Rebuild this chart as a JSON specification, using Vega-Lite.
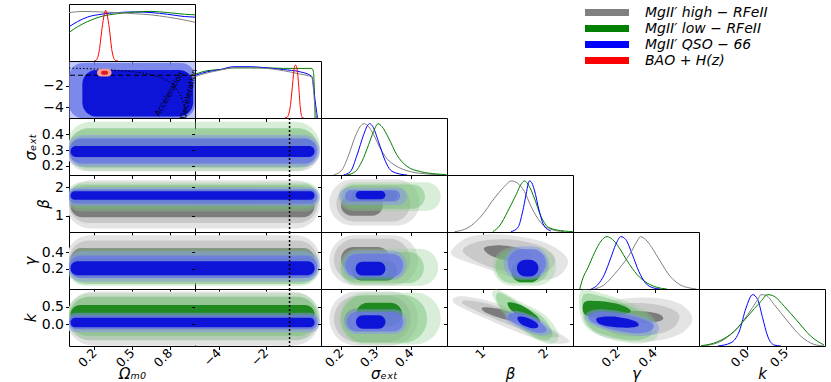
{
"$schema":"https://vega.github.io/schema/vega-lite/v6.json",
"autosize":{"type":"pad"},
"padding":{"left":22,"top":3,"right":0,"bottom":0},
"background":"white",
"spacing":0,
"bounds":"flush",
"columns":6,
"config":{
 "view":{"stroke":"#000","strokeWidth":1},
 "axis":{"domain":false,"grid":false,"tickColor":"#000","tickSize":3.5,"tickWidth":1,"labelFont":"DejaVu Sans","labelFontSize":14,"labelColor":"#000","labelPadding":2,"labelFlush":false,"labelOverlap":false,"titleFont":"DejaVu Sans","titleFontSize":15,"titleFontWeight":"normal","titleFontStyle":"italic","titleColor":"#000","titlePadding":3},
 "axisX":{"labelAngle":-45,"labelAlign":"right","labelBaseline":"middle","labelFontSize":12.5,"labelPadding":1,"titleY":32,"titleBaseline":"alphabetic"},
 "range":{"category":["#e4e4e4","#c9c9c9","#7c7c7c","rgba(143,207,143,0.35)","rgba(111,191,111,0.45)","#1f8a1f","rgba(138,150,240,0.5)","rgba(106,120,230,0.8)","#0d14d8","#f49a9a","#e01818"]},
 "legend":{"orient":"none","legendX":509,"legendY":2,"clipHeight":13,"labelFont":"DejaVu Sans","labelFontSize":14,"labelFontStyle":"italic","labelColor":"#000","labelOffset":53,"rowPadding":1,"symbolType":"M0,0H14.67","symbolSize":36,"symbolStrokeWidth":7}
},
"datasets":{
 "diag":[
  {"p":"om","set":"c","x":0,"y":0.6},{"p":"om","set":"c","x":0.067,"y":0.69},{"p":"om","set":"c","x":0.146,"y":0.77},{"p":"om","set":"c","x":0.254,"y":0.82},{"p":"om","set":"c","x":0.386,"y":0.85},{"p":"om","set":"c","x":0.52,"y":0.86},{"p":"om","set":"c","x":0.651,"y":0.85},{"p":"om","set":"c","x":0.783,"y":0.82},{"p":"om","set":"c","x":0.915,"y":0.78},{"p":"om","set":"c","x":1.0,"y":0.77},
  {"p":"om","set":"b","x":0,"y":0.5},{"p":"om","set":"b","x":0.067,"y":0.6},{"p":"om","set":"b","x":0.146,"y":0.69},{"p":"om","set":"b","x":0.254,"y":0.78},{"p":"om","set":"b","x":0.386,"y":0.83},{"p":"om","set":"b","x":0.52,"y":0.86},{"p":"om","set":"b","x":0.651,"y":0.87},{"p":"om","set":"b","x":0.783,"y":0.85},{"p":"om","set":"b","x":0.915,"y":0.82},{"p":"om","set":"b","x":1.0,"y":0.81},
  {"p":"om","set":"a","x":0,"y":0.85},{"p":"om","set":"a","x":0.119,"y":0.87},{"p":"om","set":"a","x":0.254,"y":0.86},{"p":"om","set":"a","x":0.386,"y":0.85},{"p":"om","set":"a","x":0.52,"y":0.83},{"p":"om","set":"a","x":0.651,"y":0.81},{"p":"om","set":"a","x":0.783,"y":0.77},{"p":"om","set":"a","x":0.915,"y":0.72},{"p":"om","set":"a","x":1.0,"y":0.68},
  {"p":"om","set":"d","x":0.2,"y":0},{"p":"om","set":"d","x":0.214,"y":0.01},{"p":"om","set":"d","x":0.24,"y":0.18},{"p":"om","set":"d","x":0.262,"y":0.57},{"p":"om","set":"d","x":0.28,"y":0.82},{"p":"om","set":"d","x":0.291,"y":0.89},{"p":"om","set":"d","x":0.302,"y":0.82},{"p":"om","set":"d","x":0.32,"y":0.57},{"p":"om","set":"d","x":0.341,"y":0.18},{"p":"om","set":"d","x":0.368,"y":0.01},{"p":"om","set":"d","x":0.39,"y":0},
  {"p":"w","set":"b","x":-4.98,"y":0.77},{"p":"w","set":"b","x":-4.49,"y":0.83},{"p":"w","set":"b","x":-3.93,"y":0.85},{"p":"w","set":"b","x":-3.37,"y":0.88},{"p":"w","set":"b","x":-2.66,"y":0.88},{"p":"w","set":"b","x":-1.96,"y":0.88},{"p":"w","set":"b","x":-1.26,"y":0.87},{"p":"w","set":"b","x":-0.55,"y":0.87},{"p":"w","set":"b","x":-0.06,"y":0.87},{"p":"w","set":"b","x":0.01,"y":0.81},{"p":"w","set":"b","x":0.08,"y":0},
  {"p":"w","set":"c","x":-4.98,"y":0.75},{"p":"w","set":"c","x":-4.49,"y":0.81},{"p":"w","set":"c","x":-3.93,"y":0.85},{"p":"w","set":"c","x":-3.37,"y":0.9},{"p":"w","set":"c","x":-2.66,"y":0.9},{"p":"w","set":"c","x":-1.96,"y":0.88},{"p":"w","set":"c","x":-1.26,"y":0.85},{"p":"w","set":"c","x":-0.55,"y":0.81},{"p":"w","set":"c","x":-0.06,"y":0.73},{"p":"w","set":"c","x":0.08,"y":0.31},{"p":"w","set":"c","x":0.18,"y":0},
  {"p":"w","set":"a","x":-4.98,"y":0.73},{"p":"w","set":"a","x":-4.49,"y":0.79},{"p":"w","set":"a","x":-3.93,"y":0.84},{"p":"w","set":"a","x":-3.37,"y":0.88},{"p":"w","set":"a","x":-2.66,"y":0.88},{"p":"w","set":"a","x":-1.96,"y":0.87},{"p":"w","set":"a","x":-1.26,"y":0.83},{"p":"w","set":"a","x":-0.55,"y":0.77},{"p":"w","set":"a","x":-0.06,"y":0.72},{"p":"w","set":"a","x":0.08,"y":0.19},{"p":"w","set":"a","x":0.15,"y":0},
  {"p":"w","set":"d","x":-1.2,"y":0},{"p":"w","set":"d","x":-1.11,"y":0.01},{"p":"w","set":"d","x":-0.97,"y":0.2},{"p":"w","set":"d","x":-0.87,"y":0.6},{"p":"w","set":"d","x":-0.8,"y":0.88},{"p":"w","set":"d","x":-0.75,"y":0.93},{"p":"w","set":"d","x":-0.69,"y":0.88},{"p":"w","set":"d","x":-0.62,"y":0.6},{"p":"w","set":"d","x":-0.55,"y":0.2},{"p":"w","set":"d","x":-0.47,"y":0.01},{"p":"w","set":"d","x":-0.4,"y":0},
  {"p":"s","set":"a","x":0.179,"y":0},{"p":"s","set":"a","x":0.203,"y":0.09},{"p":"s","set":"a","x":0.222,"y":0.35},{"p":"s","set":"a","x":0.241,"y":0.68},{"p":"s","set":"a","x":0.255,"y":0.85},{"p":"s","set":"a","x":0.265,"y":0.9},{"p":"s","set":"a","x":0.276,"y":0.87},{"p":"s","set":"a","x":0.293,"y":0.71},{"p":"s","set":"a","x":0.312,"y":0.47},{"p":"s","set":"a","x":0.331,"y":0.29},{"p":"s","set":"a","x":0.36,"y":0.15},{"p":"s","set":"a","x":0.398,"y":0.06},{"p":"s","set":"a","x":0.446,"y":0.018},{"p":"s","set":"a","x":0.493,"y":0},
  {"p":"s","set":"c","x":0.2075,"y":0},{"p":"s","set":"c","x":0.227,"y":0.06},{"p":"s","set":"c","x":0.246,"y":0.35},{"p":"s","set":"c","x":0.265,"y":0.71},{"p":"s","set":"c","x":0.276,"y":0.87},{"p":"s","set":"c","x":0.282,"y":0.9},{"p":"s","set":"c","x":0.291,"y":0.85},{"p":"s","set":"c","x":0.307,"y":0.59},{"p":"s","set":"c","x":0.327,"y":0.24},{"p":"s","set":"c","x":0.341,"y":0.09},{"p":"s","set":"c","x":0.36,"y":0.03},{"p":"s","set":"c","x":0.389,"y":0},
  {"p":"s","set":"b","x":0.217,"y":0},{"p":"s","set":"b","x":0.241,"y":0.06},{"p":"s","set":"b","x":0.26,"y":0.24},{"p":"s","set":"b","x":0.279,"y":0.53},{"p":"s","set":"b","x":0.293,"y":0.76},{"p":"s","set":"b","x":0.306,"y":0.9},{"p":"s","set":"b","x":0.317,"y":0.85},{"p":"s","set":"b","x":0.336,"y":0.65},{"p":"s","set":"b","x":0.36,"y":0.35},{"p":"s","set":"b","x":0.389,"y":0.15},{"p":"s","set":"b","x":0.427,"y":0.06},{"p":"s","set":"b","x":0.474,"y":0.018},{"p":"s","set":"b","x":0.501,"y":0.006},
  {"p":"b","set":"a","x":0.552,"y":0.006},{"p":"b","set":"a","x":0.763,"y":0.075},{"p":"b","set":"a","x":0.973,"y":0.277},{"p":"b","set":"a","x":1.184,"y":0.595},{"p":"b","set":"a","x":1.341,"y":0.798},{"p":"b","set":"a","x":1.447,"y":0.896},{"p":"b","set":"a","x":1.553,"y":0.855},{"p":"b","set":"a","x":1.658,"y":0.711},{"p":"b","set":"a","x":1.763,"y":0.451},{"p":"b","set":"a","x":1.921,"y":0.162},{"p":"b","set":"a","x":2.079,"y":0.046},{"p":"b","set":"a","x":2.289,"y":0.006},
  {"p":"b","set":"b","x":1.158,"y":0.006},{"p":"b","set":"b","x":1.262,"y":0.104},{"p":"b","set":"b","x":1.395,"y":0.364},{"p":"b","set":"b","x":1.526,"y":0.653},{"p":"b","set":"b","x":1.616,"y":0.855},{"p":"b","set":"b","x":1.658,"y":0.896},{"p":"b","set":"b","x":1.737,"y":0.798},{"p":"b","set":"b","x":1.816,"y":0.595},{"p":"b","set":"b","x":1.921,"y":0.277},{"p":"b","set":"b","x":2.052,"y":0.075},{"p":"b","set":"b","x":2.289,"y":0.017},{"p":"b","set":"b","x":2.431,"y":0.006},
  {"p":"b","set":"c","x":1.447,"y":0.006},{"p":"b","set":"c","x":1.553,"y":0.075},{"p":"b","set":"c","x":1.632,"y":0.364},{"p":"b","set":"c","x":1.684,"y":0.653},{"p":"b","set":"c","x":1.721,"y":0.855},{"p":"b","set":"c","x":1.737,"y":0.896},{"p":"b","set":"c","x":1.763,"y":0.884},{"p":"b","set":"c","x":1.816,"y":0.74},{"p":"b","set":"c","x":1.895,"y":0.364},{"p":"b","set":"c","x":1.973,"y":0.104},{"p":"b","set":"c","x":2.079,"y":0.017},
  {"p":"g","set":"b","x":-0.004,"y":0},{"p":"g","set":"b","x":0.014,"y":0.194},{"p":"g","set":"b","x":0.04,"y":0.37},{"p":"g","set":"b","x":0.076,"y":0.635},{"p":"g","set":"b","x":0.111,"y":0.84},{"p":"g","set":"b","x":0.143,"y":0.918},{"p":"g","set":"b","x":0.173,"y":0.87},{"p":"g","set":"b","x":0.209,"y":0.724},{"p":"g","set":"b","x":0.253,"y":0.49},{"p":"g","set":"b","x":0.306,"y":0.253},{"p":"g","set":"b","x":0.36,"y":0.106},{"p":"g","set":"b","x":0.413,"y":0.03},{"p":"g","set":"b","x":0.466,"y":0},
  {"p":"g","set":"c","x":0.058,"y":0},{"p":"g","set":"c","x":0.094,"y":0.076},{"p":"g","set":"c","x":0.129,"y":0.253},{"p":"g","set":"c","x":0.164,"y":0.547},{"p":"g","set":"c","x":0.191,"y":0.782},{"p":"g","set":"c","x":0.218,"y":0.918},{"p":"g","set":"c","x":0.244,"y":0.87},{"p":"g","set":"c","x":0.28,"y":0.606},{"p":"g","set":"c","x":0.315,"y":0.312},{"p":"g","set":"c","x":0.351,"y":0.106},{"p":"g","set":"c","x":0.395,"y":0.018},{"p":"g","set":"c","x":0.43,"y":0},
  {"p":"g","set":"a","x":0.076,"y":0},{"p":"g","set":"a","x":0.129,"y":0.076},{"p":"g","set":"a","x":0.182,"y":0.253},{"p":"g","set":"a","x":0.227,"y":0.43},{"p":"g","set":"a","x":0.271,"y":0.635},{"p":"g","set":"a","x":0.306,"y":0.84},{"p":"g","set":"a","x":0.324,"y":0.918},{"p":"g","set":"a","x":0.351,"y":0.87},{"p":"g","set":"a","x":0.386,"y":0.724},{"p":"g","set":"a","x":0.43,"y":0.49},{"p":"g","set":"a","x":0.484,"y":0.224},{"p":"g","set":"a","x":0.537,"y":0.076},{"p":"g","set":"a","x":0.59,"y":0.018},{"p":"g","set":"a","x":0.626,"y":0},
  {"p":"k","set":"c","x":-0.369,"y":0},{"p":"k","set":"c","x":-0.2,"y":0.058},{"p":"k","set":"c","x":-0.094,"y":0.262},{"p":"k","set":"c","x":-0.009,"y":0.669},{"p":"k","set":"c","x":0.076,"y":0.901},{"p":"k","set":"c","x":0.14,"y":0.814},{"p":"k","set":"c","x":0.203,"y":0.494},{"p":"k","set":"c","x":0.267,"y":0.174},{"p":"k","set":"c","x":0.351,"y":0.017},{"p":"k","set":"c","x":0.436,"y":0},
  {"p":"k","set":"a","x":-0.581,"y":0},{"p":"k","set":"a","x":-0.369,"y":0.058},{"p":"k","set":"a","x":-0.157,"y":0.262},{"p":"k","set":"a","x":0.013,"y":0.552},{"p":"k","set":"a","x":0.14,"y":0.814},{"p":"k","set":"a","x":0.182,"y":0.901},{"p":"k","set":"a","x":0.245,"y":0.89},{"p":"k","set":"a","x":0.351,"y":0.727},{"p":"k","set":"a","x":0.521,"y":0.436},{"p":"k","set":"a","x":0.69,"y":0.174},{"p":"k","set":"a","x":0.859,"y":0.029},{"p":"k","set":"a","x":0.986,"y":0},
  {"p":"k","set":"b","x":-0.581,"y":0.006},{"p":"k","set":"b","x":-0.369,"y":0.076},{"p":"k","set":"b","x":-0.157,"y":0.262},{"p":"k","set":"b","x":0.013,"y":0.523},{"p":"k","set":"b","x":0.182,"y":0.785},{"p":"k","set":"b","x":0.267,"y":0.901},{"p":"k","set":"b","x":0.351,"y":0.872},{"p":"k","set":"b","x":0.478,"y":0.698},{"p":"k","set":"b","x":0.648,"y":0.436},{"p":"k","set":"b","x":0.817,"y":0.174},{"p":"k","set":"b","x":0.986,"y":0.017}
 ],
 "band":[
  {"r":"s","c":"a0","o1":-0.02,"o2":1.5,"w1":-6,"w2":0.28,"y1":0.165,"y2":0.43},
  {"r":"s","c":"a1","o1":0.0,"o2":1.5,"w1":-6,"w2":0.18,"y1":0.19,"y2":0.39},
  {"r":"s","c":"a2","o1":0.012,"o2":1.5,"w1":-6,"w2":0.06,"y1":0.225,"y2":0.315},
  {"r":"s","c":"b0","o1":-0.02,"o2":1.5,"w1":-6,"w2":0.28,"y1":0.17,"y2":0.48},
  {"r":"s","c":"b1","o1":0.0,"o2":1.5,"w1":-6,"w2":0.18,"y1":0.19,"y2":0.44},
  {"r":"s","c":"b2","o1":0.012,"o2":1.5,"w1":-6,"w2":0.06,"y1":0.25,"y2":0.37},
  {"r":"s","c":"c0","o1":-0.02,"o2":1.5,"w1":-6,"w2":0.28,"y1":0.195,"y2":0.395},
  {"r":"s","c":"c1","o1":0.0,"o2":1.5,"w1":-6,"w2":0.18,"y1":0.214,"y2":0.375},
  {"r":"s","c":"c2","o1":0.012,"o2":1.5,"w1":-6,"w2":0.06,"y1":0.257,"y2":0.326},
  {"r":"b","c":"a0","o1":-0.02,"o2":1.5,"w1":-6,"w2":0.28,"y1":0.55,"y2":2.25},
  {"r":"b","c":"a1","o1":0.0,"o2":1.5,"w1":-6,"w2":0.18,"y1":0.75,"y2":2.05},
  {"r":"b","c":"a2","o1":0.012,"o2":1.5,"w1":-6,"w2":0.06,"y1":0.95,"y2":1.75},
  {"r":"b","c":"b0","o1":-0.02,"o2":1.5,"w1":-6,"w2":0.28,"y1":1.15,"y2":2.18},
  {"r":"b","c":"b1","o1":0.0,"o2":1.5,"w1":-6,"w2":0.18,"y1":1.25,"y2":2.1},
  {"r":"b","c":"b2","o1":0.012,"o2":1.5,"w1":-6,"w2":0.06,"y1":1.48,"y2":1.9},
  {"r":"b","c":"c0","o1":-0.02,"o2":1.5,"w1":-6,"w2":0.28,"y1":1.33,"y2":2.0},
  {"r":"b","c":"c1","o1":0.0,"o2":1.5,"w1":-6,"w2":0.18,"y1":1.42,"y2":1.93},
  {"r":"b","c":"c2","o1":0.012,"o2":1.5,"w1":-6,"w2":0.06,"y1":1.56,"y2":1.86},
  {"r":"g","c":"a0","o1":-0.02,"o2":1.5,"w1":-6,"w2":0.28,"y1":0.03,"y2":0.6},
  {"r":"g","c":"a1","o1":0.0,"o2":1.5,"w1":-6,"w2":0.18,"y1":0.07,"y2":0.54},
  {"r":"g","c":"a2","o1":0.012,"o2":1.5,"w1":-6,"w2":0.06,"y1":0.17,"y2":0.45},
  {"r":"g","c":"b0","o1":-0.02,"o2":1.5,"w1":-6,"w2":0.28,"y1":0.0,"y2":0.45},
  {"r":"g","c":"b1","o1":0.0,"o2":1.5,"w1":-6,"w2":0.18,"y1":0.02,"y2":0.41},
  {"r":"g","c":"b2","o1":0.012,"o2":1.5,"w1":-6,"w2":0.06,"y1":0.1,"y2":0.33},
  {"r":"g","c":"c0","o1":-0.02,"o2":1.5,"w1":-6,"w2":0.28,"y1":0.05,"y2":0.41},
  {"r":"g","c":"c1","o1":0.0,"o2":1.5,"w1":-6,"w2":0.18,"y1":0.09,"y2":0.36},
  {"r":"g","c":"c2","o1":0.012,"o2":1.5,"w1":-6,"w2":0.06,"y1":0.125,"y2":0.29},
  {"r":"k","c":"a0","o1":-0.02,"o2":1.5,"w1":-6,"w2":0.28,"y1":-0.6,"y2":0.93},
  {"r":"k","c":"a1","o1":0.0,"o2":1.5,"w1":-6,"w2":0.18,"y1":-0.45,"y2":0.78},
  {"r":"k","c":"a2","o1":0.012,"o2":1.5,"w1":-6,"w2":0.06,"y1":-0.15,"y2":0.45},
  {"r":"k","c":"b0","o1":-0.02,"o2":1.5,"w1":-6,"w2":0.28,"y1":-0.45,"y2":0.88},
  {"r":"k","c":"b1","o1":0.0,"o2":1.5,"w1":-6,"w2":0.18,"y1":-0.33,"y2":0.78},
  {"r":"k","c":"b2","o1":0.012,"o2":1.5,"w1":-6,"w2":0.06,"y1":0.0,"y2":0.55},
  {"r":"k","c":"c0","o1":-0.02,"o2":1.5,"w1":-6,"w2":0.28,"y1":-0.22,"y2":0.33},
  {"r":"k","c":"c1","o1":0.0,"o2":1.5,"w1":-6,"w2":0.18,"y1":-0.14,"y2":0.26},
  {"r":"k","c":"c2","o1":0.012,"o2":1.5,"w1":-6,"w2":0.06,"y1":-0.08,"y2":0.19}
 ],
 "omw":[
  {"c":"c0","o1":-0.1,"o2":1.1,"y1":-5.6,"y2":0.24},
  {"c":"c1","o1":0.0,"o2":1.0,"y1":-5.02,"y2":0.14},
  {"c":"c2","o1":0.106,"o2":0.985,"y1":-4.85,"y2":-0.5},
  {"c":"d0","o1":0.222,"o2":0.338,"y1":-1.12,"y2":-0.4},
  {"c":"d1","o1":0.255,"o2":0.31,"y1":-0.95,"y2":-0.58}
 ],
 "ell":[
  {"p":"sb","c":"a0","x1":0.167,"x2":0.425,"y1":0.655,"y2":2.27},
  {"p":"sb","c":"a1","x1":0.187,"x2":0.398,"y1":0.8,"y2":2.05},
  {"p":"sb","c":"a2","x1":0.2,"x2":0.32,"y1":1.0,"y2":1.75},
  {"p":"sb","c":"b0","x1":0.193,"x2":0.485,"y1":1.17,"y2":2.18},
  {"p":"sb","c":"b1","x1":0.203,"x2":0.44,"y1":1.25,"y2":2.1},
  {"p":"sb","c":"b2","x1":0.23,"x2":0.36,"y1":1.52,"y2":1.88},
  {"p":"sb","c":"c0","x1":0.195,"x2":0.388,"y1":1.38,"y2":1.98},
  {"p":"sb","c":"c1","x1":0.212,"x2":0.369,"y1":1.5,"y2":1.9},
  {"p":"sb","c":"c2","x1":0.242,"x2":0.327,"y1":1.58,"y2":1.87},
  {"p":"sg","c":"a0","x1":0.167,"x2":0.42,"y1":0.005,"y2":0.6},
  {"p":"sg","c":"a1","x1":0.18,"x2":0.398,"y1":0.06,"y2":0.56},
  {"p":"sg","c":"a2","x1":0.2,"x2":0.34,"y1":0.17,"y2":0.46},
  {"p":"sg","c":"b0","x1":0.195,"x2":0.478,"y1":0.0,"y2":0.44},
  {"p":"sg","c":"b1","x1":0.2,"x2":0.437,"y1":0.03,"y2":0.4},
  {"p":"sg","c":"b2","x1":0.23,"x2":0.36,"y1":0.06,"y2":0.3},
  {"p":"sg","c":"c0","x1":0.205,"x2":0.388,"y1":0.07,"y2":0.42},
  {"p":"sg","c":"c1","x1":0.212,"x2":0.378,"y1":0.1,"y2":0.38},
  {"p":"sg","c":"c2","x1":0.242,"x2":0.327,"y1":0.12,"y2":0.285},
  {"p":"sk","c":"a0","x1":0.167,"x2":0.42,"y1":-0.6,"y2":0.93},
  {"p":"sk","c":"a1","x1":0.18,"x2":0.4,"y1":-0.5,"y2":0.8},
  {"p":"sk","c":"a2","x1":0.21,"x2":0.33,"y1":-0.2,"y2":0.45},
  {"p":"sk","c":"b0","x1":0.195,"x2":0.485,"y1":-0.57,"y2":0.9},
  {"p":"sk","c":"b1","x1":0.2,"x2":0.446,"y1":-0.52,"y2":0.83},
  {"p":"sk","c":"b2","x1":0.243,"x2":0.375,"y1":-0.05,"y2":0.61},
  {"p":"sk","c":"c0","x1":0.208,"x2":0.388,"y1":-0.27,"y2":0.43},
  {"p":"sk","c":"c1","x1":0.217,"x2":0.378,"y1":-0.2,"y2":0.35},
  {"p":"sk","c":"c2","x1":0.243,"x2":0.327,"y1":-0.12,"y2":0.26},
  {"p":"bg","c":"b0","x1":1.16,"x2":2.16,"y1":0.0,"y2":0.457},
  {"p":"bg","c":"b1","x1":1.2,"x2":2.05,"y1":0.03,"y2":0.42},
  {"p":"bg","c":"b2","x1":1.45,"x2":1.92,"y1":0.04,"y2":0.3},
  {"p":"bg","c":"c0","x1":1.33,"x2":2.04,"y1":0.07,"y2":0.47},
  {"p":"bg","c":"c1","x1":1.395,"x2":2.0,"y1":0.095,"y2":0.437},
  {"p":"bg","c":"c2","x1":1.54,"x2":1.88,"y1":0.11,"y2":0.31}
 ],
 "poly":[
  {"p":"bg","c":"a0","i":0,"x":0.5,"y":0.416},{"p":"bg","c":"a0","i":1,"x":0.709,"y":0.56},{"p":"bg","c":"a0","i":2,"x":1.025,"y":0.61},{"p":"bg","c":"a0","i":3,"x":1.447,"y":0.601},{"p":"bg","c":"a0","i":4,"x":1.973,"y":0.519},{"p":"bg","c":"a0","i":5,"x":2.289,"y":0.375},{"p":"bg","c":"a0","i":6,"x":2.343,"y":0.252},{"p":"bg","c":"a0","i":7,"x":2.185,"y":0.107},{"p":"bg","c":"a0","i":8,"x":1.869,"y":0.066},{"p":"bg","c":"a0","i":9,"x":1.447,"y":0.107},{"p":"bg","c":"a0","i":10,"x":1.025,"y":0.21},{"p":"bg","c":"a0","i":11,"x":0.709,"y":0.293},{"p":"bg","c":"a0","i":12,"x":0.526,"y":0.354},
  {"p":"bg","c":"a1","i":0,"x":0.68,"y":0.42},{"p":"bg","c":"a1","i":1,"x":0.95,"y":0.53},{"p":"bg","c":"a1","i":2,"x":1.45,"y":0.55},{"p":"bg","c":"a1","i":3,"x":1.95,"y":0.46},{"p":"bg","c":"a1","i":4,"x":2.15,"y":0.3},{"p":"bg","c":"a1","i":5,"x":1.95,"y":0.15},{"p":"bg","c":"a1","i":6,"x":1.45,"y":0.16},{"p":"bg","c":"a1","i":7,"x":0.95,"y":0.27},
  {"p":"bg","c":"a2","i":0,"x":1.02,"y":0.45},{"p":"bg","c":"a2","i":1,"x":1.3,"y":0.48},{"p":"bg","c":"a2","i":2,"x":1.65,"y":0.43},{"p":"bg","c":"a2","i":3,"x":1.78,"y":0.34},{"p":"bg","c":"a2","i":4,"x":1.55,"y":0.28},{"p":"bg","c":"a2","i":5,"x":1.15,"y":0.35},
  {"p":"bk","c":"a0","i":0,"x":0.552,"y":0.76},{"p":"bk","c":"a0","i":1,"x":0.763,"y":0.78},{"p":"bk","c":"a0","i":2,"x":1.237,"y":0.58},{"p":"bk","c":"a0","i":3,"x":1.711,"y":0.18},{"p":"bk","c":"a0","i":4,"x":2.131,"y":-0.17},{"p":"bk","c":"a0","i":5,"x":2.368,"y":-0.45},{"p":"bk","c":"a0","i":6,"x":2.3,"y":-0.53},{"p":"bk","c":"a0","i":7,"x":2.079,"y":-0.52},{"p":"bk","c":"a0","i":8,"x":1.553,"y":-0.22},{"p":"bk","c":"a0","i":9,"x":1.025,"y":0.18},{"p":"bk","c":"a0","i":10,"x":0.657,"y":0.48},{"p":"bk","c":"a0","i":11,"x":0.53,"y":0.63},
  {"p":"bk","c":"a1","i":0,"x":0.75,"y":0.68},{"p":"bk","c":"a1","i":1,"x":1.2,"y":0.52},{"p":"bk","c":"a1","i":2,"x":1.7,"y":0.15},{"p":"bk","c":"a1","i":3,"x":2.1,"y":-0.2},{"p":"bk","c":"a1","i":4,"x":2.2,"y":-0.35},{"p":"bk","c":"a1","i":5,"x":1.9,"y":-0.33},{"p":"bk","c":"a1","i":6,"x":1.4,"y":0.0},{"p":"bk","c":"a1","i":7,"x":0.9,"y":0.38},{"p":"bk","c":"a1","i":8,"x":0.68,"y":0.58},
  {"p":"bk","c":"a2","i":0,"x":1.0,"y":0.48},{"p":"bk","c":"a2","i":1,"x":1.3,"y":0.42},{"p":"bk","c":"a2","i":2,"x":1.6,"y":0.2},{"p":"bk","c":"a2","i":3,"x":1.65,"y":0.08},{"p":"bk","c":"a2","i":4,"x":1.4,"y":0.12},{"p":"bk","c":"a2","i":5,"x":1.05,"y":0.33},
  {"p":"bk","c":"b0","i":0,"x":1.16,"y":0.92},{"p":"bk","c":"b0","i":1,"x":1.24,"y":0.98},{"p":"bk","c":"b0","i":2,"x":1.55,"y":0.68},{"p":"bk","c":"b0","i":3,"x":1.97,"y":0.28},{"p":"bk","c":"b0","i":4,"x":2.19,"y":-0.22},{"p":"bk","c":"b0","i":5,"x":2.15,"y":-0.52},{"p":"bk","c":"b0","i":6,"x":1.97,"y":-0.52},{"p":"bk","c":"b0","i":7,"x":1.66,"y":-0.22},{"p":"bk","c":"b0","i":8,"x":1.34,"y":0.28},{"p":"bk","c":"b0","i":9,"x":1.16,"y":0.78},
  {"p":"bk","c":"b1","i":0,"x":1.22,"y":0.86},{"p":"bk","c":"b1","i":1,"x":1.3,"y":0.88},{"p":"bk","c":"b1","i":2,"x":1.57,"y":0.6},{"p":"bk","c":"b1","i":3,"x":1.92,"y":0.25},{"p":"bk","c":"b1","i":4,"x":2.1,"y":-0.2},{"p":"bk","c":"b1","i":5,"x":2.05,"y":-0.42},{"p":"bk","c":"b1","i":6,"x":1.9,"y":-0.42},{"p":"bk","c":"b1","i":7,"x":1.65,"y":-0.15},{"p":"bk","c":"b1","i":8,"x":1.38,"y":0.25},{"p":"bk","c":"b1","i":9,"x":1.22,"y":0.66},
  {"p":"bk","c":"b2","i":0,"x":1.4,"y":0.62},{"p":"bk","c":"b2","i":1,"x":1.6,"y":0.55},{"p":"bk","c":"b2","i":2,"x":1.85,"y":0.25},{"p":"bk","c":"b2","i":3,"x":1.9,"y":0.05},{"p":"bk","c":"b2","i":4,"x":1.7,"y":0.1},{"p":"bk","c":"b2","i":5,"x":1.45,"y":0.4},
  {"p":"bk","c":"c0","i":0,"x":1.37,"y":0.33},{"p":"bk","c":"c0","i":1,"x":1.55,"y":0.38},{"p":"bk","c":"c0","i":2,"x":1.87,"y":0.18},{"p":"bk","c":"c0","i":3,"x":2.07,"y":-0.12},{"p":"bk","c":"c0","i":4,"x":2.07,"y":-0.27},{"p":"bk","c":"c0","i":5,"x":1.87,"y":-0.3},{"p":"bk","c":"c0","i":6,"x":1.55,"y":-0.07},{"p":"bk","c":"c0","i":7,"x":1.37,"y":0.13},
  {"p":"bk","c":"c1","i":0,"x":1.42,"y":0.29},{"p":"bk","c":"c1","i":1,"x":1.58,"y":0.32},{"p":"bk","c":"c1","i":2,"x":1.85,"y":0.14},{"p":"bk","c":"c1","i":3,"x":2.0,"y":-0.1},{"p":"bk","c":"c1","i":4,"x":1.98,"y":-0.22},{"p":"bk","c":"c1","i":5,"x":1.82,"y":-0.22},{"p":"bk","c":"c1","i":6,"x":1.58,"y":-0.03},{"p":"bk","c":"c1","i":7,"x":1.42,"y":0.14},
  {"p":"bk","c":"c2","i":0,"x":1.55,"y":0.2},{"p":"bk","c":"c2","i":1,"x":1.68,"y":0.2},{"p":"bk","c":"c2","i":2,"x":1.85,"y":0.05},{"p":"bk","c":"c2","i":3,"x":1.87,"y":-0.08},{"p":"bk","c":"c2","i":4,"x":1.76,"y":-0.1},{"p":"bk","c":"c2","i":5,"x":1.6,"y":0.02},
  {"p":"gk","c":"a0","i":0,"x":0.05,"y":0.5},{"p":"gk","c":"a0","i":1,"x":0.25,"y":0.73},{"p":"gk","c":"a0","i":2,"x":0.43,"y":0.73},{"p":"gk","c":"a0","i":3,"x":0.554,"y":0.53},{"p":"gk","c":"a0","i":4,"x":0.604,"y":0.15},{"p":"gk","c":"a0","i":5,"x":0.554,"y":-0.22},{"p":"gk","c":"a0","i":6,"x":0.43,"y":-0.44},{"p":"gk","c":"a0","i":7,"x":0.25,"y":-0.47},{"p":"gk","c":"a0","i":8,"x":0.07,"y":-0.2},
  {"p":"gk","c":"a1","i":0,"x":0.1,"y":0.45},{"p":"gk","c":"a1","i":1,"x":0.25,"y":0.6},{"p":"gk","c":"a1","i":2,"x":0.42,"y":0.55},{"p":"gk","c":"a1","i":3,"x":0.53,"y":0.3},{"p":"gk","c":"a1","i":4,"x":0.5,"y":-0.1},{"p":"gk","c":"a1","i":5,"x":0.38,"y":-0.3},{"p":"gk","c":"a1","i":6,"x":0.2,"y":-0.3},{"p":"gk","c":"a1","i":7,"x":0.08,"y":0.1},
  {"p":"gk","c":"a2","i":0,"x":0.18,"y":0.3},{"p":"gk","c":"a2","i":1,"x":0.3,"y":0.38},{"p":"gk","c":"a2","i":2,"x":0.42,"y":0.3},{"p":"gk","c":"a2","i":3,"x":0.44,"y":0.12},{"p":"gk","c":"a2","i":4,"x":0.32,"y":0.03},{"p":"gk","c":"a2","i":5,"x":0.2,"y":0.12},
  {"p":"gk","c":"b0","i":0,"x":0.005,"y":0.96},{"p":"gk","c":"b0","i":1,"x":0.111,"y":0.88},{"p":"gk","c":"b0","i":2,"x":0.253,"y":0.63},{"p":"gk","c":"b0","i":3,"x":0.377,"y":0.28},{"p":"gk","c":"b0","i":4,"x":0.416,"y":-0.12},{"p":"gk","c":"b0","i":5,"x":0.404,"y":-0.42},{"p":"gk","c":"b0","i":6,"x":0.306,"y":-0.54},{"p":"gk","c":"b0","i":7,"x":0.164,"y":-0.42},{"p":"gk","c":"b0","i":8,"x":0.04,"y":-0.12},{"p":"gk","c":"b0","i":9,"x":-0.004,"y":0.38},
  {"p":"gk","c":"b1","i":0,"x":0.02,"y":0.85},{"p":"gk","c":"b1","i":1,"x":0.12,"y":0.78},{"p":"gk","c":"b1","i":2,"x":0.25,"y":0.55},{"p":"gk","c":"b1","i":3,"x":0.36,"y":0.25},{"p":"gk","c":"b1","i":4,"x":0.39,"y":-0.1},{"p":"gk","c":"b1","i":5,"x":0.37,"y":-0.35},{"p":"gk","c":"b1","i":6,"x":0.28,"y":-0.45},{"p":"gk","c":"b1","i":7,"x":0.15,"y":-0.33},{"p":"gk","c":"b1","i":8,"x":0.04,"y":-0.05},{"p":"gk","c":"b1","i":9,"x":0.01,"y":0.4},
  {"p":"gk","c":"b2","i":0,"x":0.02,"y":0.62},{"p":"gk","c":"b2","i":1,"x":0.1,"y":0.66},{"p":"gk","c":"b2","i":2,"x":0.22,"y":0.55},{"p":"gk","c":"b2","i":3,"x":0.27,"y":0.35},{"p":"gk","c":"b2","i":4,"x":0.15,"y":0.2},{"p":"gk","c":"b2","i":5,"x":0.03,"y":0.25},
  {"p":"gk","c":"c0","i":0,"x":0.04,"y":0.35},{"p":"gk","c":"c0","i":1,"x":0.12,"y":0.43},{"p":"gk","c":"c0","i":2,"x":0.28,"y":0.3},{"p":"gk","c":"c0","i":3,"x":0.41,"y":0.05},{"p":"gk","c":"c0","i":4,"x":0.41,"y":-0.25},{"p":"gk","c":"c0","i":5,"x":0.3,"y":-0.32},{"p":"gk","c":"c0","i":6,"x":0.13,"y":-0.15},{"p":"gk","c":"c0","i":7,"x":0.03,"y":0.12},
  {"p":"gk","c":"c1","i":0,"x":0.06,"y":0.3},{"p":"gk","c":"c1","i":1,"x":0.14,"y":0.36},{"p":"gk","c":"c1","i":2,"x":0.28,"y":0.24},{"p":"gk","c":"c1","i":3,"x":0.39,"y":0.02},{"p":"gk","c":"c1","i":4,"x":0.37,"y":-0.2},{"p":"gk","c":"c1","i":5,"x":0.28,"y":-0.24},{"p":"gk","c":"c1","i":6,"x":0.14,"y":-0.1},{"p":"gk","c":"c1","i":7,"x":0.05,"y":0.12},
  {"p":"gk","c":"c2","i":0,"x":0.09,"y":0.18},{"p":"gk","c":"c2","i":1,"x":0.18,"y":0.22},{"p":"gk","c":"c2","i":2,"x":0.29,"y":0.1},{"p":"gk","c":"c2","i":3,"x":0.31,"y":-0.05},{"p":"gk","c":"c2","i":4,"x":0.22,"y":-0.09},{"p":"gk","c":"c2","i":5,"x":0.11,"y":0.0}
 ],
 "q0":[
  {"om":0,"w":-0.333},{"om":0.1,"w":-0.37},{"om":0.2,"w":-0.417},{"om":0.3,"w":-0.476},{"om":0.4,"w":-0.556},{"om":0.5,"w":-0.667},{"om":0.6,"w":-0.833},{"om":0.65,"w":-0.952},{"om":0.7,"w":-1.111},{"om":0.75,"w":-1.333},{"om":0.8,"w":-1.667},{"om":0.85,"w":-2.222},{"om":0.875,"w":-2.667},{"om":0.9,"w":-3.333},{"om":0.92,"w":-4.167},{"om":0.935,"w":-5.128}
 ],
 "ref":[{"v":-1}],
 "txt":[{"t":"Acceleration","om":0.8,"w":-2.77},{"t":"Deceleration","om":0.955,"w":-2.77}]
},
"concat":[
  {"width":126,"height":57,"data":{"name":"diag"},"transform":[{"filter":"datum.p==='om'"}],"mark":{"type":"line","interpolate":"monotone","clip":true},
   "encoding":{"x":{"field":"x","type":"quantitative","scale":{"domain":[0,1],"nice":false,"zero":false},"axis":{"values":[0.2,0.5,0.8],"labels":false,"title":null}},
    "y":{"field":"y","type":"quantitative","scale":{"domain":[0,1],"nice":false,"zero":false},"axis":null},
    "strokeWidth":{"value":1},
    "stroke":{"field":"set","type":"nominal","scale":{"domain":["a","b","c","d"],"range":["#808080","#008000","#0000ff","#ff0000"]},"legend":{"title":null,"labelExpr":"datum.label=='a'?'MgII′ high − RFeII':datum.label=='b'?'MgII′ low − RFeII':datum.label=='c'?'MgII′ QSO − 66':'BAO + H(z)'","symbolType":"M0,0H14.67","symbolStrokeWidth":7,"symbolSize":36,"clipHeight":13}}}},
  {"width":126,"height":57,"view":{"stroke":null},"data":{"name":"ref"},"mark":{"type":"text","opacity":0},"encoding":{"text":{"field":"v"}}},
  {"width":126,"height":57,"view":{"stroke":null},"data":{"name":"ref"},"mark":{"type":"text","opacity":0},"encoding":{"text":{"field":"v"}}},
  {"width":126,"height":57,"view":{"stroke":null},"data":{"name":"ref"},"mark":{"type":"text","opacity":0},"encoding":{"text":{"field":"v"}}},
  {"width":126,"height":57,"view":{"stroke":null},"data":{"name":"ref"},"mark":{"type":"text","opacity":0},"encoding":{"text":{"field":"v"}}},
  {"width":126,"height":57,"view":{"stroke":null},"data":{"name":"ref"},"mark":{"type":"text","opacity":0},"encoding":{"text":{"field":"v"}}},

  {"width":126,"height":57,"layer":[
   {"data":{"name":"omw"},"transform":[{"filter":"datum.c<'d'"}],"mark":{"type":"rect","cornerRadius":14,"clip":true},
    "encoding":{"x":{"field":"o1","type":"quantitative","scale":{"domain":[0,1],"nice":false,"zero":false},"axis":{"values":[0.2,0.5,0.8],"labels":false,"title":null}},"x2":{"field":"o2"},
     "y":{"field":"y1","type":"quantitative","scale":{"domain":[-5,0.33],"nice":false,"zero":false},"axis":{"values":[-4,-2],"format":"d","title":"ωᵪ"}},"y2":{"field":"y2"},
     "fill":{"field":"c","type":"nominal","legend":null}}},
   {"data":{"name":"ref"},"mark":{"type":"rule","color":"#000","strokeDash":[5,3],"strokeWidth":1},"encoding":{"y":{"field":"v","type":"quantitative","title":null}}},
   {"data":{"name":"q0"},"mark":{"type":"line","color":"#000","strokeDash":[1.5,2],"strokeWidth":1,"clip":true,"interpolate":"monotone"},"encoding":{"x":{"field":"om","type":"quantitative","title":null},"y":{"field":"w","type":"quantitative","title":null}}},
   {"data":{"name":"omw"},"transform":[{"filter":"datum.c>='d'"}],"mark":{"type":"rect","cornerRadius":14,"clip":true},
    "encoding":{"x":{"field":"o1","type":"quantitative","title":null},"x2":{"field":"o2"},"y":{"field":"y1","type":"quantitative","title":null},"y2":{"field":"y2"},"fill":{"field":"c","type":"nominal","legend":null}}},
   {"data":{"name":"txt"},"transform":[{"filter":"datum.t==='Acceleration'"}],"mark":{"type":"text","angle":300,"fontSize":8,"font":"DejaVu Sans","color":"#000"},"encoding":{"x":{"field":"om","type":"quantitative","title":null},"y":{"field":"w","type":"quantitative","title":null},"text":{"field":"t"}}},
   {"data":{"name":"txt"},"transform":[{"filter":"datum.t==='Deceleration'"}],"mark":{"type":"text","angle":283,"fontSize":8,"font":"DejaVu Sans","color":"#000"},"encoding":{"x":{"field":"om","type":"quantitative","title":null},"y":{"field":"w","type":"quantitative","title":null},"text":{"field":"t"}}}
  ]},
  {"width":126,"height":57,"data":{"name":"diag"},"transform":[{"filter":"datum.p==='w'"}],"mark":{"type":"line","interpolate":"monotone","clip":true},
   "encoding":{"x":{"field":"x","type":"quantitative","scale":{"domain":[-5,0.33],"nice":false,"zero":false},"axis":{"values":[-4,-2],"labels":false,"title":null}},
    "y":{"field":"y","type":"quantitative","scale":{"domain":[0,1],"nice":false,"zero":false},"axis":null},
    "strokeWidth":{"value":1},
    "stroke":{"field":"set","type":"nominal","scale":{"domain":["a","b","c","d"],"range":["#808080","#008000","#0000ff","#ff0000"]},"legend":{"title":null,"labelExpr":"datum.label=='a'?'MgII′ high − RFeII':datum.label=='b'?'MgII′ low − RFeII':datum.label=='c'?'MgII′ QSO − 66':'BAO + H(z)'","symbolType":"M0,0H14.67","symbolStrokeWidth":7,"symbolSize":36,"clipHeight":13}}}},
  {"width":126,"height":57,"view":{"stroke":null},"data":{"name":"ref"},"mark":{"type":"text","opacity":0},"encoding":{"text":{"field":"v"}}},
  {"width":126,"height":57,"view":{"stroke":null},"data":{"name":"ref"},"mark":{"type":"text","opacity":0},"encoding":{"text":{"field":"v"}}},
  {"width":126,"height":57,"view":{"stroke":null},"data":{"name":"ref"},"mark":{"type":"text","opacity":0},"encoding":{"text":{"field":"v"}}},
  {"width":126,"height":57,"view":{"stroke":null},"data":{"name":"ref"},"mark":{"type":"text","opacity":0},"encoding":{"text":{"field":"v"}}},

  {"width":126,"height":57,"data":{"name":"band"},"transform":[{"filter":"datum.r==='s'"}],"mark":{"type":"rect","cornerRadius":100,"clip":true},
   "encoding":{"x":{"field":"o1","type":"quantitative","scale":{"domain":[0,1],"nice":false,"zero":false},"axis":{"values":[0.2,0.5,0.8],"labels":false,"title":null}},"x2":{"field":"o2"},
    "y":{"field":"y1","type":"quantitative","scale":{"domain":[0.143,0.503],"nice":false,"zero":false},"axis":{"values":[0.2,0.3,0.4],"format":".1f","title":"σₑₓₜ"}},"y2":{"field":"y2"},
    "fill":{"field":"c","type":"nominal","legend":null}}},
  {"width":126,"height":57,"layer":[
   {"data":{"name":"band"},"transform":[{"filter":"datum.r==='s'"}],"mark":{"type":"rect","cornerRadius":100,"clip":true},
    "encoding":{"x":{"field":"w1","type":"quantitative","scale":{"domain":[-5,0.33],"nice":false,"zero":false},"axis":{"values":[-4,-2],"labels":false,"title":null}},"x2":{"field":"w2"},
     "y":{"field":"y1","type":"quantitative","scale":{"domain":[0.143,0.503],"nice":false,"zero":false},"axis":{"values":[0.2,0.3,0.4],"labels":false,"title":null}},"y2":{"field":"y2"},
     "fill":{"field":"c","type":"nominal","legend":null}}},
   {"data":{"name":"ref"},"mark":{"type":"rule","color":"#000","strokeDash":[2,2],"strokeWidth":1.5},"encoding":{"x":{"field":"v","type":"quantitative","title":null}}}
  ]},
  {"width":126,"height":57,"data":{"name":"diag"},"transform":[{"filter":"datum.p==='s'"}],"mark":{"type":"line","interpolate":"monotone","clip":true},
   "encoding":{"x":{"field":"x","type":"quantitative","scale":{"domain":[0.143,0.503],"nice":false,"zero":false},"axis":{"values":[0.2,0.3,0.4],"labels":false,"title":null}},
    "y":{"field":"y","type":"quantitative","scale":{"domain":[0,1],"nice":false,"zero":false},"axis":null},
    "strokeWidth":{"value":1},
    "stroke":{"field":"set","type":"nominal","scale":{"domain":["a","b","c","d"],"range":["#808080","#008000","#0000ff","#ff0000"]},"legend":{"title":null,"labelExpr":"datum.label=='a'?'MgII′ high − RFeII':datum.label=='b'?'MgII′ low − RFeII':datum.label=='c'?'MgII′ QSO − 66':'BAO + H(z)'","symbolType":"M0,0H14.67","symbolStrokeWidth":7,"symbolSize":36,"clipHeight":13}}}},
  {"width":126,"height":57,"view":{"stroke":null},"data":{"name":"ref"},"mark":{"type":"text","opacity":0},"encoding":{"text":{"field":"v"}}},
  {"width":126,"height":57,"view":{"stroke":null},"data":{"name":"ref"},"mark":{"type":"text","opacity":0},"encoding":{"text":{"field":"v"}}},
  {"width":126,"height":57,"view":{"stroke":null},"data":{"name":"ref"},"mark":{"type":"text","opacity":0},"encoding":{"text":{"field":"v"}}},

  {"width":126,"height":57,"data":{"name":"band"},"transform":[{"filter":"datum.r==='b'"}],"mark":{"type":"rect","cornerRadius":100,"clip":true},
   "encoding":{"x":{"field":"o1","type":"quantitative","scale":{"domain":[0,1],"nice":false,"zero":false},"axis":{"values":[0.2,0.5,0.8],"labels":false,"title":null}},"x2":{"field":"o2"},
    "y":{"field":"y1","type":"quantitative","scale":{"domain":[0.43,2.43],"nice":false,"zero":false},"axis":{"values":[1,2],"format":"d","title":"β"}},"y2":{"field":"y2"},
    "fill":{"field":"c","type":"nominal","legend":null}}},
  {"width":126,"height":57,"layer":[
   {"data":{"name":"band"},"transform":[{"filter":"datum.r==='b'"}],"mark":{"type":"rect","cornerRadius":100,"clip":true},
    "encoding":{"x":{"field":"w1","type":"quantitative","scale":{"domain":[-5,0.33],"nice":false,"zero":false},"axis":{"values":[-4,-2],"labels":false,"title":null}},"x2":{"field":"w2"},
     "y":{"field":"y1","type":"quantitative","scale":{"domain":[0.43,2.43],"nice":false,"zero":false},"axis":{"values":[1,2],"labels":false,"title":null}},"y2":{"field":"y2"},
     "fill":{"field":"c","type":"nominal","legend":null}}},
   {"data":{"name":"ref"},"mark":{"type":"rule","color":"#000","strokeDash":[2,2],"strokeWidth":1.5},"encoding":{"x":{"field":"v","type":"quantitative","title":null}}}
  ]},
  {"width":126,"height":57,"data":{"name":"ell"},"transform":[{"filter":"datum.p==='sb'"}],"mark":{"type":"rect","cornerRadius":100,"clip":true},
   "encoding":{"x":{"field":"x1","type":"quantitative","scale":{"domain":[0.143,0.503],"nice":false,"zero":false},"axis":{"values":[0.2,0.3,0.4],"labels":false,"title":null}},"x2":{"field":"x2"},
    "y":{"field":"y1","type":"quantitative","scale":{"domain":[0.43,2.43],"nice":false,"zero":false},"axis":{"values":[1,2],"labels":false,"title":null}},"y2":{"field":"y2"},
    "fill":{"field":"c","type":"nominal","legend":null}}},
  {"width":126,"height":57,"data":{"name":"diag"},"transform":[{"filter":"datum.p==='b'"}],"mark":{"type":"line","interpolate":"monotone","clip":true},
   "encoding":{"x":{"field":"x","type":"quantitative","scale":{"domain":[0.43,2.43],"nice":false,"zero":false},"axis":{"values":[1,2],"labels":false,"title":null}},
    "y":{"field":"y","type":"quantitative","scale":{"domain":[0,1],"nice":false,"zero":false},"axis":null},
    "strokeWidth":{"value":1},
    "stroke":{"field":"set","type":"nominal","scale":{"domain":["a","b","c","d"],"range":["#808080","#008000","#0000ff","#ff0000"]},"legend":{"title":null,"labelExpr":"datum.label=='a'?'MgII′ high − RFeII':datum.label=='b'?'MgII′ low − RFeII':datum.label=='c'?'MgII′ QSO − 66':'BAO + H(z)'","symbolType":"M0,0H14.67","symbolStrokeWidth":7,"symbolSize":36,"clipHeight":13}}}},
  {"width":126,"height":57,"view":{"stroke":null},"data":{"name":"ref"},"mark":{"type":"text","opacity":0},"encoding":{"text":{"field":"v"}}},
  {"width":126,"height":57,"view":{"stroke":null},"data":{"name":"ref"},"mark":{"type":"text","opacity":0},"encoding":{"text":{"field":"v"}}},

  {"width":126,"height":57,"data":{"name":"band"},"transform":[{"filter":"datum.r==='g'"}],"mark":{"type":"rect","cornerRadius":100,"clip":true},
   "encoding":{"x":{"field":"o1","type":"quantitative","scale":{"domain":[0,1],"nice":false,"zero":false},"axis":{"values":[0.2,0.5,0.8],"labels":false,"title":null}},"x2":{"field":"o2"},
    "y":{"field":"y1","type":"quantitative","scale":{"domain":[-0.04,0.64],"nice":false,"zero":false},"axis":{"values":[0.2,0.4],"format":".1f","title":"γ"}},"y2":{"field":"y2"},
    "fill":{"field":"c","type":"nominal","legend":null}}},
  {"width":126,"height":57,"layer":[
   {"data":{"name":"band"},"transform":[{"filter":"datum.r==='g'"}],"mark":{"type":"rect","cornerRadius":100,"clip":true},
    "encoding":{"x":{"field":"w1","type":"quantitative","scale":{"domain":[-5,0.33],"nice":false,"zero":false},"axis":{"values":[-4,-2],"labels":false,"title":null}},"x2":{"field":"w2"},
     "y":{"field":"y1","type":"quantitative","scale":{"domain":[-0.04,0.64],"nice":false,"zero":false},"axis":{"values":[0.2,0.4],"labels":false,"title":null}},"y2":{"field":"y2"},
     "fill":{"field":"c","type":"nominal","legend":null}}},
   {"data":{"name":"ref"},"mark":{"type":"rule","color":"#000","strokeDash":[2,2],"strokeWidth":1.5},"encoding":{"x":{"field":"v","type":"quantitative","title":null}}}
  ]},
  {"width":126,"height":57,"data":{"name":"ell"},"transform":[{"filter":"datum.p==='sg'"}],"mark":{"type":"rect","cornerRadius":100,"clip":true},
   "encoding":{"x":{"field":"x1","type":"quantitative","scale":{"domain":[0.143,0.503],"nice":false,"zero":false},"axis":{"values":[0.2,0.3,0.4],"labels":false,"title":null}},"x2":{"field":"x2"},
    "y":{"field":"y1","type":"quantitative","scale":{"domain":[-0.04,0.64],"nice":false,"zero":false},"axis":{"values":[0.2,0.4],"labels":false,"title":null}},"y2":{"field":"y2"},
    "fill":{"field":"c","type":"nominal","legend":null}}},
  {"width":126,"height":57,"layer":[
   {"data":{"name":"poly"},"transform":[{"filter":"datum.p==='bg'"}],"mark":{"type":"line","interpolate":"cardinal-closed","stroke":"transparent","clip":true},
    "encoding":{"x":{"field":"x","type":"quantitative","scale":{"domain":[0.43,2.43],"nice":false,"zero":false},"axis":{"values":[1,2],"labels":false,"title":null}},
     "y":{"field":"y","type":"quantitative","scale":{"domain":[-0.04,0.64],"nice":false,"zero":false},"axis":{"values":[0.2,0.4],"labels":false,"title":null}},
     "fill":{"field":"c","type":"nominal","legend":null},"detail":{"field":"c"},"order":{"field":"i","type":"quantitative"}}},
   {"data":{"name":"ell"},"transform":[{"filter":"datum.p==='bg'"}],"mark":{"type":"rect","cornerRadius":100,"clip":true},
    "encoding":{"x":{"field":"x1","type":"quantitative","title":null},"x2":{"field":"x2"},"y":{"field":"y1","type":"quantitative","title":null},"y2":{"field":"y2"},
     "fill":{"field":"c","type":"nominal","legend":null}}}
  ]},
  {"width":126,"height":57,"data":{"name":"diag"},"transform":[{"filter":"datum.p==='g'"}],"mark":{"type":"line","interpolate":"monotone","clip":true},
   "encoding":{"x":{"field":"x","type":"quantitative","scale":{"domain":[-0.04,0.64],"nice":false,"zero":false},"axis":{"values":[0.2,0.4],"labels":false,"title":null}},
    "y":{"field":"y","type":"quantitative","scale":{"domain":[0,1],"nice":false,"zero":false},"axis":null},
    "strokeWidth":{"value":1},
    "stroke":{"field":"set","type":"nominal","scale":{"domain":["a","b","c","d"],"range":["#808080","#008000","#0000ff","#ff0000"]},"legend":{"title":null,"labelExpr":"datum.label=='a'?'MgII′ high − RFeII':datum.label=='b'?'MgII′ low − RFeII':datum.label=='c'?'MgII′ QSO − 66':'BAO + H(z)'","symbolType":"M0,0H14.67","symbolStrokeWidth":7,"symbolSize":36,"clipHeight":13}}}},
  {"width":126,"height":57,"view":{"stroke":null},"data":{"name":"ref"},"mark":{"type":"text","opacity":0},"encoding":{"text":{"field":"v"}}},

  {"width":126,"height":57,"data":{"name":"band"},"transform":[{"filter":"datum.r==='k'"}],"mark":{"type":"rect","cornerRadius":100,"clip":true},
   "encoding":{"x":{"field":"o1","type":"quantitative","scale":{"domain":[0,1],"nice":false,"zero":false},"axis":{"values":[0.2,0.5,0.8],"format":".1f","title":"Ωₘ₀"}},"x2":{"field":"o2"},
    "y":{"field":"y1","type":"quantitative","scale":{"domain":[-0.61,1.0],"nice":false,"zero":false},"axis":{"values":[0,0.5],"format":".1f","title":"k"}},"y2":{"field":"y2"},
    "fill":{"field":"c","type":"nominal","legend":null}}},
  {"width":126,"height":57,"layer":[
   {"data":{"name":"band"},"transform":[{"filter":"datum.r==='k'"}],"mark":{"type":"rect","cornerRadius":100,"clip":true},
    "encoding":{"x":{"field":"w1","type":"quantitative","scale":{"domain":[-5,0.33],"nice":false,"zero":false},"axis":{"values":[-4,-2],"format":"d","title":"ωₓ"}},"x2":{"field":"w2"},
     "y":{"field":"y1","type":"quantitative","scale":{"domain":[-0.61,1.0],"nice":false,"zero":false},"axis":{"values":[0,0.5],"labels":false,"title":null}},"y2":{"field":"y2"},
     "fill":{"field":"c","type":"nominal","legend":null}}},
   {"data":{"name":"ref"},"mark":{"type":"rule","color":"#000","strokeDash":[2,2],"strokeWidth":1.5},"encoding":{"x":{"field":"v","type":"quantitative","title":null}}}
  ]},
  {"width":126,"height":57,"data":{"name":"ell"},"transform":[{"filter":"datum.p==='sk'"}],"mark":{"type":"rect","cornerRadius":100,"clip":true},
   "encoding":{"x":{"field":"x1","type":"quantitative","scale":{"domain":[0.143,0.503],"nice":false,"zero":false},"axis":{"values":[0.2,0.3,0.4],"format":".1f","title":"σₑₓₜ"}},"x2":{"field":"x2"},
    "y":{"field":"y1","type":"quantitative","scale":{"domain":[-0.61,1.0],"nice":false,"zero":false},"axis":{"values":[0,0.5],"labels":false,"title":null}},"y2":{"field":"y2"},
    "fill":{"field":"c","type":"nominal","legend":null}}},
  {"width":126,"height":57,"data":{"name":"poly"},"transform":[{"filter":"datum.p==='bk'"}],"mark":{"type":"line","interpolate":"cardinal-closed","stroke":"transparent","clip":true},
   "encoding":{"x":{"field":"x","type":"quantitative","scale":{"domain":[0.43,2.43],"nice":false,"zero":false},"axis":{"values":[1,2],"format":"d","title":"β"}},
    "y":{"field":"y","type":"quantitative","scale":{"domain":[-0.61,1.0],"nice":false,"zero":false},"axis":{"values":[0,0.5],"labels":false,"title":null}},
    "fill":{"field":"c","type":"nominal","legend":null},"detail":{"field":"c"},"order":{"field":"i","type":"quantitative"}}},
  {"width":126,"height":57,"data":{"name":"poly"},"transform":[{"filter":"datum.p==='gk'"}],"mark":{"type":"line","interpolate":"cardinal-closed","stroke":"transparent","clip":true},
   "encoding":{"x":{"field":"x","type":"quantitative","scale":{"domain":[-0.04,0.64],"nice":false,"zero":false},"axis":{"values":[0.2,0.4],"format":".1f","title":"γ"}},
    "y":{"field":"y","type":"quantitative","scale":{"domain":[-0.61,1.0],"nice":false,"zero":false},"axis":{"values":[0,0.5],"labels":false,"title":null}},
    "fill":{"field":"c","type":"nominal","legend":null},"detail":{"field":"c"},"order":{"field":"i","type":"quantitative"}}},
  {"width":126,"height":57,"data":{"name":"diag"},"transform":[{"filter":"datum.p==='k'"}],"mark":{"type":"line","interpolate":"monotone","clip":true},
   "encoding":{"x":{"field":"x","type":"quantitative","scale":{"domain":[-0.61,1.0],"nice":false,"zero":false},"axis":{"values":[0,0.5],"format":".1f","title":"k"}},
    "y":{"field":"y","type":"quantitative","scale":{"domain":[0,1],"nice":false,"zero":false},"axis":null},
    "strokeWidth":{"value":1},
    "stroke":{"field":"set","type":"nominal","scale":{"domain":["a","b","c","d"],"range":["#808080","#008000","#0000ff","#ff0000"]},"legend":{"title":null,"labelExpr":"datum.label=='a'?'MgII′ high − RFeII':datum.label=='b'?'MgII′ low − RFeII':datum.label=='c'?'MgII′ QSO − 66':'BAO + H(z)'","symbolType":"M0,0H14.67","symbolStrokeWidth":7,"symbolSize":36,"clipHeight":13}}}}
]
}
